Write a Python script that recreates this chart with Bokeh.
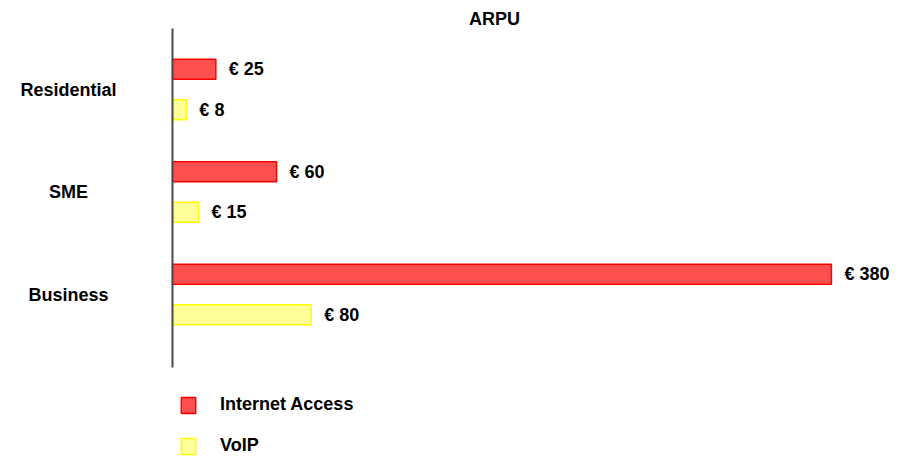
import numpy as np
from bokeh.plotting import figure
from bokeh.models import Range1d, Label, Legend, LegendItem, ColumnDataSource
from bokeh.core.properties import value
from bokeh.embed import file_html
from bokeh.resources import INLINE

# ---- data ----
segments = ["Residential", "SME", "Business"]
internet_access = [25, 60, 380]
voip = [8, 15, 80]
series_names = ["Internet Access", "VoIP"]
title_text = "ARPU"

FONT = "Liberation Sans"
RED_FILL, RED_LINE = "#FF5050", "#FF0000"
YEL_FILL, YEL_LINE = "#FFFF99", "#FFFF00"

W, H = 898, 459
PX_PER_UNIT = 1.734      # x pixels per euro
X0 = 172                 # pixel of value 0
Y_SPACING = 102.5        # pixels between groups
Y0 = 89                  # pixel of first group centre

pos = np.arange(len(segments), dtype=float)
off = 0.197
bh = 0.195

src_ia = ColumnDataSource(dict(y=pos - off, v=internet_access,
                               lab=[f"\u20ac {v}" for v in internet_access]))
src_vo = ColumnDataSource(dict(y=pos + off, v=voip,
                               lab=[f"\u20ac {v}" for v in voip]))

p = figure(width=W, height=H, output_backend="svg", toolbar_location=None,
           x_range=Range1d(-X0 / PX_PER_UNIT, (W - X0) / PX_PER_UNIT),
           y_range=Range1d((H - Y0) / Y_SPACING, -Y0 / Y_SPACING),
           min_border=0)
p.outline_line_color = None
p.grid.visible = False
p.xaxis.visible = False
p.yaxis.fixed_location = 0
p.yaxis.bounds = (-0.595, 2.712)
p.yaxis.major_tick_line_color = None
p.yaxis.minor_tick_line_color = None
p.yaxis.major_label_text_font_size = "0px"
p.yaxis.axis_line_color = "#4a4a4a"
p.yaxis.axis_line_width = 2
p.yaxis.ticker = []

r_ia = p.hbar(y="y", right="v", left=0, height=bh, source=src_ia,
              fill_color=RED_FILL, line_color=RED_LINE, line_width=1.5)
r_vo = p.hbar(y="y", right="v", left=0, height=bh, source=src_vo,
              fill_color=YEL_FILL, line_color=YEL_LINE, line_width=1.5)

for src in (src_ia, src_vo):
    p.text(x="v", y="y", text="lab", source=src, x_offset=13,
           text_font=value(FONT), text_font_style="bold",
           text_font_size="18px", text_baseline="middle", text_align="left",
           text_color="black")

for name, y in zip(segments, pos):
    p.add_layout(Label(x=68, x_units="screen", y=y, y_units="data",
                       text=name, text_font=FONT, text_font_style="bold",
                       text_font_size="18px", text_align="center",
                       text_baseline="middle", text_color="black"))

p.add_layout(Label(x=494, x_units="screen", y=H - 18, y_units="screen",
                   text=title_text, text_font=FONT, text_font_style="bold",
                   text_font_size="18px", text_align="center",
                   text_baseline="middle", text_color="black"))

legend = Legend(items=[LegendItem(label=series_names[0], renderers=[r_ia]),
                       LegendItem(label=series_names[1], renderers=[r_vo])],
                location=(179, 3), orientation="vertical",
                glyph_width=18, glyph_height=20, label_standoff=23,
                spacing=20, padding=0, margin=0,
                label_text_font=FONT, label_text_font_style="bold",
                label_text_font_size="18px", label_height=20,
                label_text_color="black",
                border_line_color=None, background_fill_alpha=0)
p.add_layout(legend, "center")

open("out.html", "w").write(file_html(p, INLINE))
